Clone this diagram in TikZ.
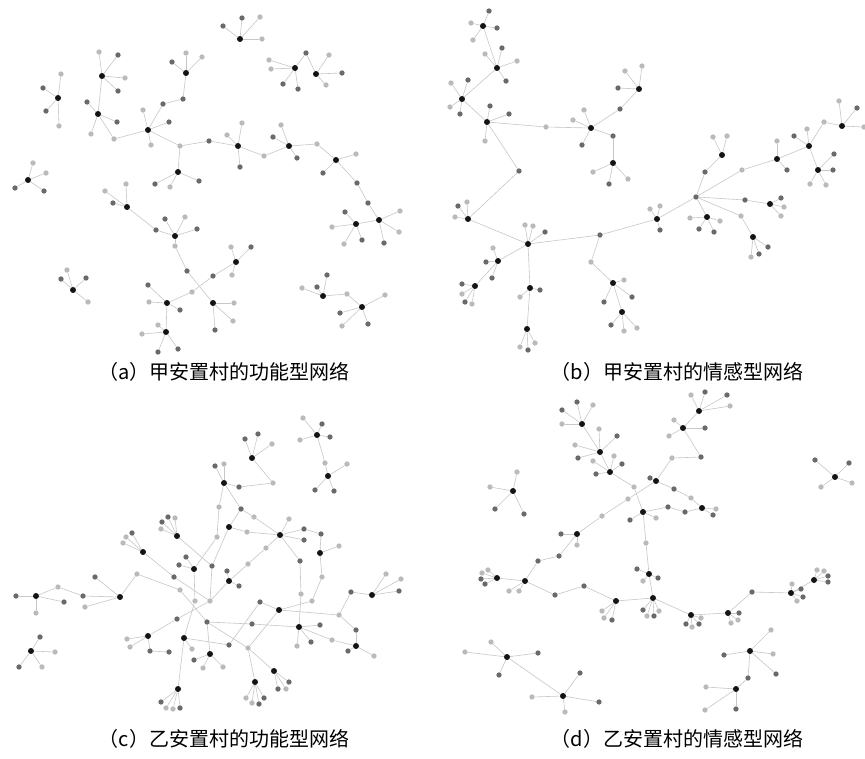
\documentclass[tikz,border=0pt]{standalone}
\usepackage{fontspec}
\newfontfamily\cjk{Noto Sans CJK SC}
\pgfdeclarelayer{bg}
\pgfsetlayers{bg,main}
\definecolor{dk}{HTML}{6A6A6A}
\definecolor{lt}{HTML}{BABABA}
\tikzset{
  hb/.style={circle,fill=black!92,inner sep=0pt,minimum size=6pt},
  leaf/.style={circle,inner sep=0pt,minimum size=5.3pt},
  edge/.style={draw=black!22,line width=0.6pt},
  captxt/.style={font=\cjk\fontsize{20}{24}\selectfont,inner sep=0pt,anchor=base}
}
\gdef\edgelist{A1/A2,A2/a1,a1/A4,A4/a2,a2/a3,a3/A5,A4/a4,a4/a5,a5/A14,A14/a11,a11/A15,A15/a12,a12/A16,A16/a13,a13/a14,a14/A17,A17/A18,a4/A6,A8/a6,a6/A9,A9/a7,a7/a8,a8/A10,A12/a10,a10/a9,a9/A11,A12/A13,A20/a15,a15/A21,A22/a16,a16/A23,%
B1/B2,B2/B3,B3/B4,B4/b1,b1/B5,B5/b2,b2/B6,B5/b3,b3/B7,B4/b4,b4/B8,B8/B9,B9/B10,B10/B11,B9/B12,B12/B13,B9/b5,b5/b6,b6/B14,B14/B15,b5/B16,B16/b7,b7/b8,b8/B17,b7/b9,b9/B18,B18/B19,B19/b10,b10/B20,B20/b11,B19/B21,b7/b12,b12/B22,b7/B23,b7/b13,b13/B24,%
C1/c1,c1/c2,c2/C2,C2/c3,c3/c5,C4/c4,c4/c7,C5/c6,c6/C15,c6/c7,C6/c13,C6/c8,c8/C8,C8/C10,C8/c31,C7-3/c11,C7/c10,c10/c7,c5/c9,c9/C9,c9/c34,c34/C22,c9/c30,c30/C23,c30/C24,C19/c30,c31/c28,c28/C19,C11/c12,c12/c13,C11/c14,c14/c15,c15/C12,C11/c17,c17/c18,c18/C16,c17/C15,C15/c19,c19/C16,C16/c20,c20/c21,c21/C18,C18/c25,c25/c26,c26/C19,C16/c22,c22/c27,c27/C22,C16/c23,c23/c24,c24/C17,C17/c7,C19/c29,c29/c32,c32/C20,c29/c33,c33/C21,C22/c35,c35/C21,C13/c16,c16/C14,%
D1/D2,D2/D3,D3/d1,d1/D8,D18/d15,d15/d16,d16/D4,D4/d2,d2/d3,d3/D5,D5/D6,D4/d5,d5/d6,d6/D7,D8/d7,d7/d8,d8/D7,D8/d9,d9/D9,D9/D10,D10/D11,D11/D12,D12/d10,d10/D13,D13/D14,D10/D15,D15/d11,d11/d12,d12/D16,D16/D17,D16/d13,d13/d14,d14/D18,D20/D21,D23/d17,d17/D24}
\newcommand{\mkcluster}[4]{%
  \node[hb] (#1) at (#2,#3) {};
  \foreach \lx/\ly/\lc [count=\ii] in {#4} {%
    \node[leaf,fill=\lc] (#1-\ii) at (\lx,\ly) {};
    \xdef\edgelist{\edgelist,#1/#1-\ii}%
  }%
}
\newcommand{\nd}[4]{\node[leaf,fill=#4] (#1) at (#2,#3) {};}
\begin{document}
\begin{tikzpicture}[x=1pt,y=-1pt]
\useasboundingbox (0,0) rectangle (865,759);

% ---------------- panel (a) ----------------
\mkcluster{A1}{102}{76}{99/52/lt,118/55/dk,125/78/lt,118/91/dk}
\mkcluster{A2}{98}{114}{87/102/dk,117/122/dk,91/134/lt}
\nd{a1}{114}{139}{lt}
\mkcluster{A3}{58}{98}{61/74/lt,43/88/dk,46/111/dk,59/126/lt}
\mkcluster{A4}{148}{130}{143/110/lt,169/122/dk,151/145/lt}
\nd{a2}{163}{104}{dk}
\nd{a3}{183}{99}{dk}
\mkcluster{A5}{186}{73}{172/62/dk,186/53/lt,202/57/lt}
\nd{a4}{180}{146}{lt}
\nd{a5}{209}{141}{dk}
\mkcluster{A6}{178}{172}{155/184/dk,170/187/lt,199/181/dk}
\mkcluster{A7}{28}{180}{33/163/lt,46/173/lt,15/188/dk,44/191/dk}
\mkcluster{A8}{127}{207}{105/191/lt,113/203/dk,126/184/lt}
\nd{a6}{156}{230}{dk}
\mkcluster{A9}{175}{236}{165/219/dk,185/217/lt,197/229/dk}
\nd{a7}{175}{246}{lt}
\nd{a8}{187}{271}{dk}
\mkcluster{A10}{213}{303}{234/303/lt,233/321/lt,215/330/dk}
\mkcluster{A11}{236}{262}{231/247/lt,251/247/dk,232/275/lt}
\nd{a9}{213}{276}{dk}
\nd{a10}{192}{292}{lt}
\mkcluster{A12}{167}{303}{148/285/dk,149/302/lt,180/310/dk}
\mkcluster{A13}{166}{332}{158/325/lt,142/334/lt,158/352/dk,178/349/dk}
\mkcluster{A14}{238}{146}{227/135/lt,242/123/lt,240/167/dk}
\nd{a11}{264}{156}{lt}
\mkcluster{A15}{289}{146}{273/137/dk,281/125/lt,297/158/dk}
\nd{a12}{317}{144}{lt}
\mkcluster{A16}{336}{160}{356/154/lt,323/173/dk}
\nd{a13}{357}{183}{dk}
\nd{a14}{368}{203}{dk}
\mkcluster{A17}{379}{220}{400/211/lt,399/232/lt,384/243/dk}
\mkcluster{A18}{356}{224}{345/212/dk,332/227/lt,344/244/lt,362/240/dk}
\mkcluster{A19}{240}{39}{223/26/dk,242/18/dk,260/17/lt,262/39/lt}
\mkcluster{A20}{295}{68}{269/60/lt,271/69/lt,283/84/dk,298/89/dk}
\mkcluster{A21}{316}{74}{329/55/lt,342/73/dk,326/85/lt}
\nd{a15}{306}{53}{dk}
\mkcluster{A22}{323}{296}{302/288/lt,317/287/dk,327/275/dk}
\nd{a16}{347}{294}{lt}
\mkcluster{A23}{362}{307}{385/295/lt,340/313/dk,342/326/lt,368/324/dk}
\mkcluster{A24}{73}{290}{67/270/lt,61/279/dk,86/278/dk,88/302/lt}

% ---------------- panel (b) ----------------
\mkcluster{B1}{483}{26}{489/11/dk,471/23/lt,473/40/lt,497/28/dk}
\mkcluster{B2}{497}{68}{485/54/lt,502/48/dk,517/61/lt,506/81/dk}
\mkcluster{B3}{462}{99}{451/83/lt,468/80/dk,450/107/lt,460/114/dk}
\mkcluster{B4}{487}{122}{490/106/dk,509/114/dk,485/141/lt}
\nd{b1}{546}{127}{lt}
\mkcluster{B5}{591}{128}{584/110/lt,573/120/lt,582/145/dk}
\nd{b2}{620}{109}{dk}
\mkcluster{B6}{639}{89}{618/88/dk,625/71/lt,642/66/lt}
\nd{b3}{613}{136}{dk}
\mkcluster{B7}{613}{163}{593/172/lt,609/184/dk,628/179/lt}
\nd{b4}{519}{171}{dk}
\mkcluster{B8}{468}{219}{458/206/dk,467/202/lt,455/217/lt}
\mkcluster{B9}{528}{244}{525/225/lt,533/226/lt,545/232/dk}
\mkcluster{B10}{498}{261}{493/248/lt,486/262/dk,492/278/dk}
\mkcluster{B11}{475}{286}{462/284/dk,462/294/lt,465/302/dk,472/304/lt}
\mkcluster{B12}{530}{288}{520/297/lt,540/290/dk}
\mkcluster{B13}{527}{329}{520/347/lt,528/350/dk,535/343/lt}
\nd{b5}{600}{235}{dk}
\nd{b6}{591}{262}{lt}
\mkcluster{B14}{613}{283}{624/280/lt,632/297/dk,604/302/dk}
\mkcluster{B15}{622}{312}{611/325/dk,624/331/lt,637/328/lt}
\mkcluster{B16}{657}{219}{650/209/lt,660/206/lt,660/230/dk}
\nd{b7}{696}{197}{dk}
\nd{b8}{705}{172}{dk}
\mkcluster{B17}{722}{155}{713/137/lt,727/136/lt}
\nd{b9}{742}{170}{lt}
\mkcluster{B18}{777}{159}{777/141/lt,787/170/dk}
\mkcluster{B19}{809}{146}{794/136/dk,807/129/lt}
\nd{b10}{824}{122}{lt}
\mkcluster{B20}{842}{126}{839/101/lt,857/108/dk}
\nd{b11}{864}{127}{lt}
\mkcluster{B21}{818}{170}{834/154/dk,833/170/dk,810/184/lt,826/185/lt}
\nd{b12}{745}{200}{dk}
\mkcluster{B22}{770}{204}{781/198/dk,784/207/lt,781/216/lt}
\mkcluster{B23}{707}{217}{690/218/lt,720/221/lt,699/229/dk,714/232/dk}
\nd{b13}{741}{216}{lt}
\mkcluster{B24}{753}{237}{768/247/dk,759/254/dk,751/257/lt}

% ---------------- panel (c) ----------------
\mkcluster{C1}{36}{596}{16/596/dk,36/613/lt,64/602/dk}
\nd{c1}{58}{587}{lt}
\nd{c2}{83}{596}{dk}
\mkcluster{C2}{120}{597}{85/607/lt,95/577/dk}
\nd{c3}{137}{574}{lt}
\mkcluster{C3}{31}{651}{40/637/dk,55/652/lt,19/667/dk,42/667/lt}
\mkcluster{C4}{143}{552}{132/533/dk,126/537/lt,123/543/lt}
\nd{c4}{174}{577}{dk}
\mkcluster{C5}{177}{536}{168/517/dk,175/518/lt,162/522/dk,161/529/lt}
\mkcluster{C6}{194}{569}{186/557/dk,179/565/dk}
\nd{c5}{180}{590}{lt}
\nd{c6}{212}{566}{dk}
\nd{c7}{210}{601}{lt}
\nd{c8}{195}{601}{lt}
\nd{c9}{207}{622}{dk}
\nd{c10}{177}{619}{dk}
\mkcluster{C7}{148}{636}{127/639/lt,130/647/lt,150/651/dk}
\nd{c11}{169}{652}{dk}
\mkcluster{C8}{184}{638}{192/649/lt}
\mkcluster{C9}{210}{654}{194/660/dk,203/668/lt,223/667/lt}
\mkcluster{C10}{178}{689}{161/702/dk,166/708/lt,173/709/lt,180/708/dk}
\mkcluster{C11}{224}{483}{215/466/dk,224/464/lt}
\nd{c12}{219}{507}{lt}
\nd{c13}{217}{537}{lt}
\nd{c14}{239}{487}{dk}
\nd{c15}{273}{483}{lt}
\mkcluster{C12}{252}{458}{245/439/dk,258/434/dk,272/444/lt}
\mkcluster{C13}{317}{435}{303/418/lt,322/424/dk,300/440/lt,330/437/dk}
\nd{c16}{325}{463}{lt}
\mkcluster{C14}{328}{476}{347/464/lt,315/490/dk,334/491/dk}
\node[hb] (C15) at (229,527) {};
\nd{c17}{241}{509}{dk}
\nd{c18}{254}{517}{lt}
\nd{c19}{247}{532}{lt}
\mkcluster{C16}{280}{535}{289/519/lt,304/540/dk}
\nd{c20}{304}{529}{dk}
\nd{c21}{321}{534}{dk}
\nd{c22}{300}{561}{dk}
\nd{c23}{266}{548}{lt}
\nd{c24}{248}{564}{lt}
\mkcluster{C17}{229}{581}{227/571/dk,239/586/dk}
\mkcluster{C18}{320}{553}{339/546/lt}
\nd{c25}{322}{577}{lt}
\nd{c26}{312}{601}{lt}
\nd{c27}{301}{594}{lt}
\node[hb] (C19) at (279,610) {};
\nd{c28}{260}{602}{dk}
\nd{c29}{339}{615}{lt}
\nd{c30}{248}{648}{lt}
\nd{c31}{229}{645}{dk}
\mkcluster{C20}{372}{595}{386/574/lt,401/579/lt,399/591/dk}
\nd{c32}{351}{592}{dk}
\nd{c33}{356}{630}{dk}
\mkcluster{C21}{356}{646}{348/651/dk,374/656/lt}
\mkcluster{C22}{299}{627}{320/625/dk,311/642/dk,297/646/lt}
\nd{c34}{252}{624}{dk}
\nd{c35}{332}{640}{lt}
\mkcluster{C23}{274}{671}{289/682/dk,286/689/lt,278/689/dk}
\mkcluster{C24}{255}{682}{246/698/lt,252/703/lt,259/704/dk,264/698/dk}

% ---------------- panel (d) ----------------
\mkcluster{D1}{582}{424}{577/402/dk,593/405/lt,562/410/dk,562/424/lt}
\mkcluster{D2}{600}{452}{599/429/lt,617/436/dk,575/445/lt,578/458/dk}
\mkcluster{D3}{610}{472}{593/461/lt,614/456/lt,622/464/dk,596/474/dk}
\nd{d1}{634}{487}{lt}
\mkcluster{D4}{656}{481}{650/478/dk}
\nd{d2}{672}{458}{lt}
\nd{d3}{701}{457}{dk}
\mkcluster{D5}{683}{428}{674/420/lt,669/436/lt,705/428/dk}
\mkcluster{D6}{699}{411}{691/395/lt,705/392/dk,727/395/dk,730/406/lt}
\nd{d5}{674}{489}{dk}
\nd{d6}{691}{498}{lt}
\mkcluster{D7}{702}{508}{716/509/lt,713/515/dk}
\nd{d7}{668}{507}{dk}
\nd{d8}{685}{512}{dk}
\mkcluster{D8}{643}{512}{630/520/dk,656/518/lt}
\nd{d9}{646}{543}{lt}
\mkcluster{D9}{649}{574}{637/569/dk,643/581/lt,658/578/dk}
\mkcluster{D10}{653}{598}{643/610/dk,647/616/lt,654/616/dk,659/611/lt}
\mkcluster{D11}{691}{615}{686/624/dk,692/627/lt,699/624/dk,701/618/lt}
\mkcluster{D12}{728}{613}{739/613/dk,731/623/lt,738/620/lt}
\nd{d10}{752}{592}{dk}
\mkcluster{D13}{791}{593}{792/584/lt,801/589/dk,803/597/dk,797/601/lt}
\mkcluster{D14}{814}{580}{817/570/lt,824/571/lt,828/576/dk,828/582/dk}
\mkcluster{D15}{616}{601}{602/611/lt,604/618/lt,612/620/dk}
\nd{d11}{584}{586}{dk}
\nd{d12}{555}{595}{dk}
\mkcluster{D16}{525}{581}{509/591/lt,519/591/lt}
\mkcluster{D17}{497}{578}{482/573/lt,488/570/lt,481/579/dk,485/584/dk}
\nd{d13}{538}{561}{dk}
\nd{d14}{559}{556}{dk}
\mkcluster{D18}{577}{534}{561/534/dk,577/545/lt}
\nd{d15}{602}{516}{lt}
\nd{d16}{628}{499}{lt}
\mkcluster{D19}{513}{491}{517/472/lt,490/487/lt,495/509/dk,524/514/dk}
\mkcluster{D20}{507}{657}{491/642/lt,465/652/lt,538/653/dk,499/675/dk}
\mkcluster{D21}{563}{696}{580/673/dk,532/697/lt,599/702/dk,565/712/lt}
\mkcluster{D22}{835}{477}{815/460/dk,849/463/dk,821/487/lt,852/483/lt}
\mkcluster{D23}{750}{651}{771/630/lt,724/655/dk,773/654/lt,776/674/dk}
\nd{d17}{748}{678}{dk}
\mkcluster{D24}{736}{689}{706/687/lt,705/710/lt,736/709/dk}

% ---------------- connectors (one background layer) ----------------
\begin{pgfonlayer}{bg}
\fill[white] (0,0) rectangle (865,759);
\foreach \a/\b in \edgelist {\draw[edge] (\a) -- (\b);}
\end{pgfonlayer}

% ---------------- captions ----------------
\node[captxt] (capa) at (224,380) {（a）甲安置村的功能型网络};
\node[captxt] (capb) at (677,380) {（b）甲安置村的情感型网络};
\node[captxt] (capc) at (224,746) {（c）乙安置村的功能型网络};
\node[captxt] (capd) at (677,746) {（d）乙安置村的情感型网络};
\end{tikzpicture}
\end{document}
